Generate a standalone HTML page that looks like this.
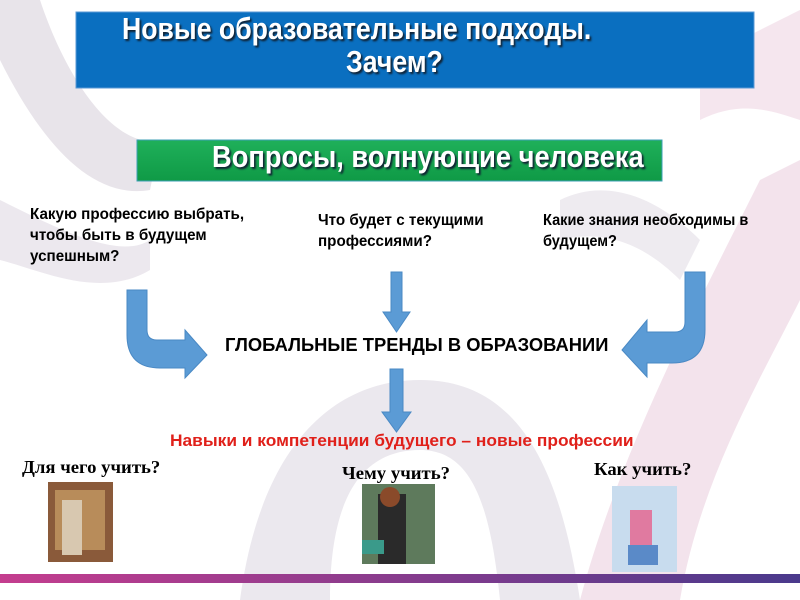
<!DOCTYPE html>
<html><head><meta charset="utf-8"><style>
body{margin:0;width:800px;height:600px;overflow:hidden;background:#fff;font-family:"Liberation Sans",sans-serif}
.t{position:absolute;font-family:"Liberation Sans Narrow","Liberation Sans",sans-serif;font-weight:bold;color:#000;white-space:nowrap;transform-origin:left}
</style></head><body>
<svg width="800" height="600" style="position:absolute;left:0;top:0">
<defs>
<linearGradient id="bar" x1="0" x2="1"><stop offset="0" stop-color="#c43d8e"/><stop offset="1" stop-color="#4a3a8c"/></linearGradient>
<linearGradient id="gr" x1="0" y1="0" x2="0" y2="1"><stop offset="0" stop-color="#1fb05a"/><stop offset="1" stop-color="#0f9a46"/></linearGradient>
</defs>
<path d="M0,60 C40,140 90,200 150,190 L160,140 C120,150 70,90 40,0 L0,0 Z" fill="#e8e4ea"/>
<path d="M0,200 C60,230 120,260 150,240 L150,270 C100,300 40,270 0,260Z" fill="#ece8ee"/>
<path d="M240,600 C260,450 330,380 420,380 C520,380 560,470 580,600 L500,600 C490,500 470,450 420,450 C360,450 330,500 330,600Z" fill="#ebe8ee"/>
<path d="M580,600 C620,450 700,300 760,180 L800,160 L800,300 C760,380 700,480 680,600Z" fill="#f3e3ec"/>
<path d="M700,60 C740,40 780,20 800,10 L800,120 C770,110 740,100 700,120Z" fill="#f5e6ee"/>
<path d="M560,200 C600,180 650,190 700,240 L680,280 C640,240 600,230 560,240Z" fill="#eeebf0"/>
<rect x="76" y="12" width="678" height="76" fill="#0a6fc0" stroke="#5a9ad6"/>
<rect x="137" y="140" width="525" height="41" fill="url(#gr)" stroke="#3d9fb5"/>
<path d="M127,290 L147,290 L147,330 Q147,340 157,340 L185,340 L185,330 L207,355 L185,378 L185,368 L160,368 Q127,368 127,335 Z" fill="#5b9bd5" stroke="#4a89c4"/>
<path d="M705,272 L685,272 L685,322 Q685,332 675,332 L647,332 L647,320 L622,350 L647,377 L647,363 L672,363 Q705,363 705,330 Z" fill="#5b9bd5" stroke="#4a89c4"/>
<path d="M391,272 L402,272 L402,312 L410,312 L396.5,332 L383,312 L391,312Z" fill="#5b9bd5" stroke="#4a89c4"/>
<path d="M390,369 L403,369 L403,412 L411,412 L396.5,432 L382,412 L390,412Z" fill="#5b9bd5" stroke="#4a89c4"/>
<rect x="48" y="482" width="65" height="80" fill="#8a5a3a"/><rect x="55" y="490" width="50" height="60" fill="#b88c5a"/><rect x="62" y="500" width="20" height="55" fill="#d8c8b0"/>
<rect x="362" y="484" width="73" height="80" fill="#5e7a5c"/><rect x="378" y="494" width="28" height="70" fill="#2a2a2a"/><circle cx="390" cy="497" r="10" fill="#8a4a2a"/><rect x="362" y="540" width="22" height="14" fill="#3a9a8a"/>
<rect x="612" y="486" width="65" height="86" fill="#c8dcee"/><rect x="630" y="510" width="22" height="35" fill="#e07aa0"/><rect x="628" y="545" width="30" height="20" fill="#5a8ac8"/>
<rect x="0" y="574" width="800" height="9" fill="url(#bar)"/>
</svg>
<div class="t" style="left:122px;top:11px;font-size:31px;color:#fff;text-shadow:2px 2px 2px #123;transform:scaleX(0.86)">Новые образовательные подходы.</div>
<div class="t" style="left:346px;top:44px;font-size:31px;color:#fff;text-shadow:2px 2px 2px #123;transform:scaleX(0.86)">Зачем?</div>
<div class="t" style="left:212px;top:139px;font-size:31px;color:#fff;text-shadow:2px 2px 2px #123;transform:scaleX(0.88)">Вопросы, волнующие человека</div>
<div class="t" style="left:30px;top:204px;font-size:15.5px;line-height:21px;transform:scaleX(0.98)">Какую профессию выбрать,<br>чтобы быть в будущем<br>успешным?</div>
<div class="t" style="left:318px;top:210px;font-size:15.5px;line-height:21px;transform:scaleX(0.98)">Что будет с текущими<br>профессиями?</div>
<div class="t" style="left:543px;top:210px;font-size:15.5px;line-height:21px;transform:scaleX(0.94)">Какие знания необходимы в<br>будущем?</div>
<div class="t" style="left:225px;top:335px;font-size:18px;transform:scaleX(1.02)">ГЛОБАЛЬНЫЕ ТРЕНДЫ В ОБРАЗОВАНИИ</div>
<div class="t" style="left:170px;top:431px;font-size:17px;color:#e0201a;transform:scaleX(1.02)">Навыки и компетенции будущего – новые профессии</div>
<div class="t" style="left:22px;top:457px;font-size:18px;font-family:'Liberation Serif',serif;transform:scaleX(1.04)">Для чего учить?</div>
<div class="t" style="left:342px;top:463px;font-size:18px;font-family:'Liberation Serif',serif;transform:scaleX(1.04)">Чему учить?</div>
<div class="t" style="left:594px;top:459px;font-size:18px;font-family:'Liberation Serif',serif;transform:scaleX(1.04)">Как учить?</div>
</body></html>
